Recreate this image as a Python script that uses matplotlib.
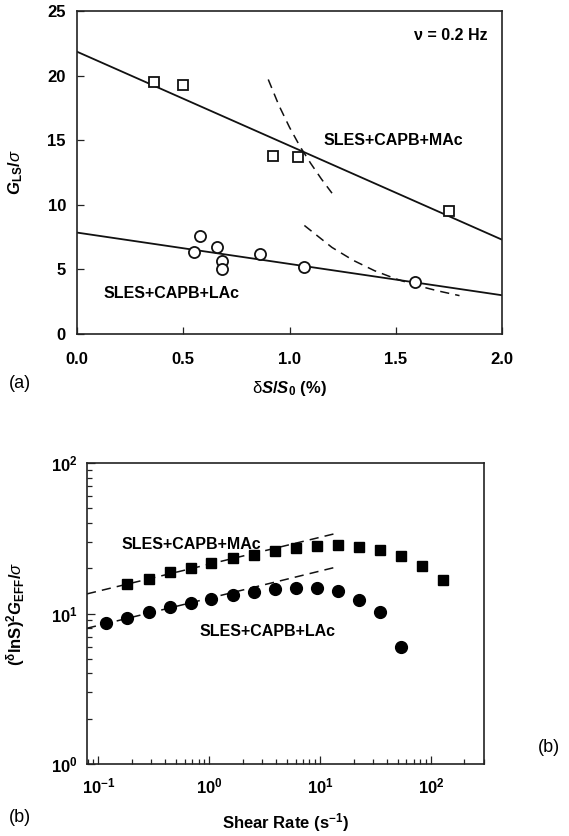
import numpy as np
import matplotlib
matplotlib.use("Agg")
import matplotlib.pyplot as plt

plt.rcParams["font.family"] = ["Liberation Sans", "DejaVu Sans"]
plt.rcParams["mathtext.fontset"] = "custom"
plt.rcParams["mathtext.rm"] = "Liberation Sans"
plt.rcParams["mathtext.it"] = "Liberation Sans:italic"
plt.rcParams["mathtext.bf"] = "Liberation Sans:bold"
plt.rcParams["mathtext.bfit"] = "Liberation Sans:italic:bold"

# ---- panel (a): G_LS/sigma vs dS/S0 ----
mac_x = [0.36, 0.50, 0.92, 1.04, 1.75]
mac_y = [19.5, 19.3, 13.8, 13.7, 9.5]
lac_x = [0.55, 0.58, 0.66, 0.68, 0.68, 0.86, 1.07, 1.59]
lac_y = [6.35, 7.55, 6.75, 5.65, 5.0, 6.2, 5.2, 4.05]
mac_fit_x = [0.0, 2.0]
mac_fit_y = [21.85, 7.3]
lac_fit_x = [0.0, 2.0]
lac_fit_y = [7.85, 3.0]
dash1_x = [0.90, 0.95, 1.00, 1.05, 1.10, 1.15, 1.20]
dash1_y = [19.7, 17.7, 16.0, 14.5, 13.2, 12.0, 10.9]
dash2_x = [1.07, 1.20, 1.30, 1.40, 1.50, 1.60, 1.70, 1.80]
dash2_y = [8.4, 6.7, 5.7, 4.9, 4.27, 3.75, 3.33, 2.97]

# ---- panel (b): (dlnS)^2 G_EFF/sigma vs shear rate ----
rate = [0.118, 0.183, 0.284, 0.44, 0.681, 1.046, 1.64, 2.52, 3.90, 6.03,
        9.33, 14.5, 22.3, 34.5, 53.8, 83.1, 128.8]
geff_mac = [None, 15.7, 17.0, 18.8, 20.2, 21.8, 23.2, 24.6, 25.9, 27.2,
            28.1, 28.4, 27.7, 26.6, 24.1, 20.7, 16.7]
geff_lac = [8.61, 9.34, 10.2, 11.0, 11.7, 12.5, 13.3, 13.9, 14.5, 14.8,
            14.7, 14.1, 12.35, 10.2, 6.0, None, None]
mac_pow_x = [0.079, 14.7]
mac_pow_y = [13.5, 34.4]
lac_pow_x = [0.079, 13.4]
lac_pow_y = [7.98, 20.2]
b_xticks = [0.1, 1, 10, 100]
b_xticklabels = [r"$\mathbf{10^{-1}}$", r"$\mathbf{10^{0}}$",
                 r"$\mathbf{10^{1}}$", r"$\mathbf{10^{2}}$"]
b_yticks = [1, 10, 100]
b_yticklabels = [r"$\mathbf{10^{0}}$", r"$\mathbf{10^{1}}$", r"$\mathbf{10^{2}}$"]

W, H = 569, 836
fig = plt.figure(figsize=(W / 100, H / 100), dpi=100)


def px_axes(left, top, right, bottom):
    return fig.add_axes([left / W, (H - bottom) / H, (right - left) / W, (bottom - top) / H])


def style_axes(ax):
    for s in ["top", "right", "left", "bottom"]:
        ax.spines[s].set_linewidth(1.2)
        ax.spines[s].set_color("#222222")
    ax.tick_params(which="both", direction="in", top=False, right=False,
                   color="#222222", width=0.9)


lbl_kw = dict(fontsize=11.5, fontweight="bold")

# panel (a)
ax1 = px_axes(77, 11, 502, 334)
style_axes(ax1)
ax1.plot(mac_fit_x, mac_fit_y, color="#111111", lw=1.3)
ax1.plot(lac_fit_x, lac_fit_y, color="#111111", lw=1.3)
ax1.plot(dash1_x, dash1_y, color="#111111", lw=1.1, ls=(0, (6, 4)))
ax1.plot(dash2_x, dash2_y, color="#111111", lw=1.1, ls=(0, (6, 4)))
ax1.plot(mac_x, mac_y, ls="none", marker="s", ms=7, mfc="white", mec="#111111", mew=1.3)
ax1.plot(lac_x, lac_y, ls="none", marker="o", ms=8, mfc="white", mec="#111111", mew=1.3)
ax1.set_xlim(0, 2)
ax1.set_ylim(0, 25)
ax1.set_xticks([0.0, 0.5, 1.0, 1.5, 2.0])
ax1.set_xticklabels(["0.0", "0.5", "1.0", "1.5", "2.0"])
ax1.set_yticks([0, 5, 10, 15, 20, 25])
ax1.tick_params(axis="x", length=5, pad=13)
ax1.tick_params(axis="y", length=5, pad=8)
for t in ax1.get_xticklabels() + ax1.get_yticklabels():
    t.set_fontsize(12)
    t.set_fontweight("bold")
ax1.text(1.934, 23.07, "ν = 0.2 Hz", ha="right", va="center", **lbl_kw)
ax1.text(1.158, 14.97, "SLES+CAPB+MAc", ha="left", va="center", **lbl_kw)
ax1.text(0.123, 3.16, "SLES+CAPB+LAc", ha="left", va="center", **lbl_kw)
ax1.set_xlabel(r"$\mathrm{\delta}\mathbfit{S}\mathbf{/}\mathbfit{S}_{\mathbf{0}}$ (%)",
               fontsize=12, fontweight="bold")
ax1.xaxis.set_label_coords(0.5, -0.14)
ax1.set_ylabel(r"$\mathbfit{G}_{\mathbf{LS}}\mathbf{/}\sigma$", fontsize=12, fontweight="bold")
ax1.yaxis.set_label_coords(-0.122, 0.5)

# panel (b)
ax2 = px_axes(87, 463, 484, 764)
style_axes(ax2)
ax2.set_xscale("log")
ax2.set_yscale("log")
ax2.plot(mac_pow_x, mac_pow_y, color="#111111", lw=1.1, ls=(0, (6, 4)))
ax2.plot(lac_pow_x, lac_pow_y, color="#111111", lw=1.1, ls=(0, (6, 4)))
mx = [r for r, v in zip(rate, geff_mac) if v is not None]
my = [v for v in geff_mac if v is not None]
lx = [r for r, v in zip(rate, geff_lac) if v is not None]
ly = [v for v in geff_lac if v is not None]
ax2.plot(mx, my, ls="none", marker="s", ms=7.5, color="#000000")
ax2.plot(lx, ly, ls="none", marker="o", ms=8.5, color="#000000")
ax2.set_xlim(0.079, 300)
ax2.set_ylim(1, 100)
ax2.set_xticks(b_xticks)
ax2.set_xticklabels(b_xticklabels)
ax2.set_yticks(b_yticks)
ax2.set_yticklabels(b_yticklabels)
ax2.tick_params(which="major", length=6)
ax2.tick_params(which="minor", length=3.5)
ax2.tick_params(axis="x", which="both", pad=9)
ax2.tick_params(axis="y", which="both", pad=7)
for t in ax2.get_xticklabels() + ax2.get_yticklabels():
    t.set_fontsize(12)
ax2.text(0.161, 28.7, "SLES+CAPB+MAc", ha="left", va="center", **lbl_kw)
ax2.text(0.821, 7.59, "SLES+CAPB+LAc", ha="left", va="center", **lbl_kw)
ax2.set_xlabel(r"Shear Rate (s$\mathbf{^{-1}}$)", fontsize=12, fontweight="bold")
ax2.xaxis.set_label_coords(0.5, -0.155)
ax2.set_ylabel(r"$\mathbf{(^{\delta}lnS)^{2}}\mathbfit{G}_{\mathbf{EFF}}\mathbf{/}\sigma$",
               fontsize=12, fontweight="bold")
ax2.yaxis.set_label_coords(-0.151, 0.5)

# panel tags
fig.text(20 / W, (H - 384) / H, "(a)", ha="center", va="center", fontsize=13)
fig.text(20 / W, (H - 818) / H, "(b)", ha="center", va="center", fontsize=13)
fig.text(549 / W, (H - 748) / H, "(b)", ha="center", va="center", fontsize=13)

fig.savefig("out.png", dpi=100)
